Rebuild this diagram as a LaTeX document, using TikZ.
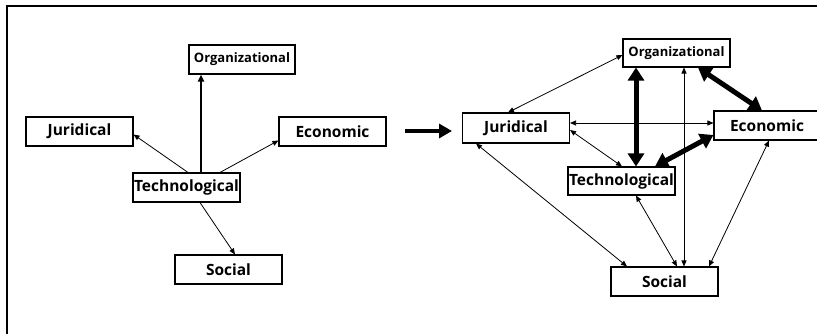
\documentclass[tikz,border=0pt]{standalone}
\usepackage{fontspec}
\setmainfont{Open Sans}
\usetikzlibrary{arrows.meta}

\begin{document}
\begin{tikzpicture}[x=1pt, y=-1pt, >=Stealth,
    box/.style={draw, line width=1.1pt, minimum width=107pt, minimum height=29pt,
      inner sep=0pt, font=\fontsize{15.5}{17}\selectfont\bfseries},
    small/.style={font=\fontsize{13}{15}\selectfont\bfseries},
    thin/.style={<->, line width=0.8pt, >={Triangle[length=6pt, width=5pt]}},
    heavy/.style={<->, line width=5pt, >={Triangle[length=13pt, width=16pt]}}]

    \useasboundingbox (0,0) rectangle (817,334);

    %% cadre
    \draw[line width=1.4pt] (7,334) -- (7,6) -- (817,6);

    %% partie gauche
    \node[box, small, minimum width=106pt] (org1) at (242,59.5) {Organizational};
    \node[box] (jur1)  at (79.5,131.5)  {Juridical};
    \node[box] (eco1)  at (332.5,131.5) {Economic};
    \node[box] (tech1) at (186.5,187.5) {Technological};
    \node[box] (soc1)  at (228.5,269.5) {Social};

    % fleches depuis Technological
    \draw[->, line width=0.8pt, >={Triangle[length=6pt, width=5pt]}] ([xshift=1.5pt]tech1.north) -- ([yshift=-3pt]jur1.east);
    \draw[->, line width=1.8pt, >={Triangle[length=7pt, width=6pt]}] ([xshift=14.5pt]tech1.north) -- ([xshift=-41pt]org1.south);
    \draw[->, line width=0.8pt, >={Triangle[length=6pt, width=5pt]}] ([xshift=33.5pt]tech1.north) -- ([yshift=-9pt]eco1.west);
    \draw[->, line width=0.8pt, >={Triangle[length=6pt, width=5pt]}] ([xshift=13.5pt]tech1.south) -- ([xshift=6.5pt]soc1.north);

    %% grosse fleche
    \coordinate (from) at (405,131);
    \coordinate (to)   at (452,131);
    \draw[->, line width=4.5pt, >={Triangle[length=13pt, width=14pt]}] (from) -- (to);

    %% partie droite
    \node[box, small, minimum height=28pt] (org2) at (676.5,53) {Organizational};
    \node[box, minimum height=30pt] (jur2) at (516,128)  {Juridical};
    \node[box, minimum width=106pt] (eco2) at (767,125.5) {Economic};
    \node[box, minimum height=28pt] (tech2) at (621.5,181) {Technological};
    \node[box] (soc2) at (664.5,281.5) {Social};

    % liens fins
    \draw[thin] ([yshift=-2pt]org2.west) -- ([xshift=-8pt]jur2.north);
    \draw[thin] ([xshift=7.5pt]org2.south) -- ([xshift=19.5pt]soc2.north);
    \draw[thin] ([yshift=5pt]jur2.east) -- ([yshift=2.5pt]eco2.west);
    \draw[thin] ([yshift=-2pt]jur2.east) -- ([xshift=0.5pt]tech2.north);
    \draw[thin] ([xshift=-40pt]jur2.south) -- ([xshift=-37.5pt]soc2.north);
    \draw[thin] ([xshift=14.5pt]tech2.south) -- ([xshift=12.5pt]soc2.north);
    \draw[thin] ([xshift=2pt]eco2.south) -- ([xshift=44.5pt]soc2.north);

    % liens forts
    \draw[heavy] ([xshift=-40.5pt]org2.south) -- ([xshift=14.5pt]tech2.north);
    \draw[heavy] ([xshift=21.5pt]org2.south) -- ([xshift=-5pt]eco2.north);
    \draw[heavy] ([yshift=-9.5pt]eco2.west) -- ([xshift=33.5pt]tech2.north);

\end{tikzpicture}
\end{document}
